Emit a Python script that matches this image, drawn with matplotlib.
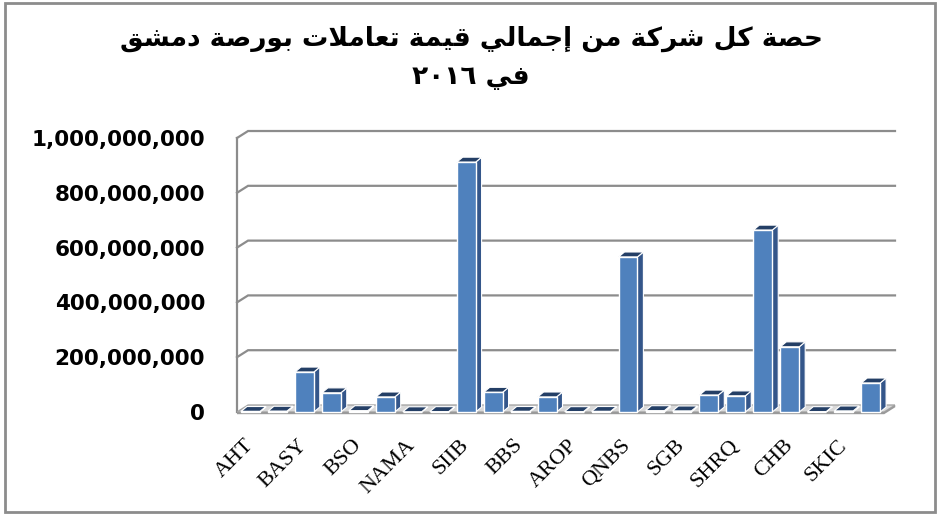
import matplotlib.pyplot as plt
from matplotlib.patches import Rectangle

# share of each company in the total traded value, Damascus Securities Exchange 2016
tick_labels = ['AHT', 'BASY', 'BSO', 'NAMA', 'SIIB', 'BBS',
               'AROP', 'QNBS', 'SGB', 'SHRQ', 'CHB', 'SKIC']
values = [2e6, 3e6, 146e6, 70e6, 5e6, 55e6, 1e6, 1.5e6,
          912e6, 72e6, 2e6, 55e6, 1.5e6, 2e6, 566e6, 5e6,
          4e6, 62e6, 59e6, 664e6, 238e6, 1.5e6, 4e6, 106e6]
y_ticks = [0, 200e6, 400e6, 600e6, 800e6, 1000e6]
title_line1 = 'حصة كل شركة من إجمالي قيمة تعاملات بورصة دمشق'
title_line2 = 'في ٢٠١٦'

# --- minimal arabic shaping (matplotlib does no bidi / joining) ---
FORMS = {
    'ا': ('\uFE8D', '\uFE8E', None, None),
    'إ': ('\uFE87', '\uFE88', None, None),
    'ب': ('\uFE8F', '\uFE90', '\uFE91', '\uFE92'),
    'ة': ('\uFE93', '\uFE94', None, None),
    'ت': ('\uFE95', '\uFE96', '\uFE97', '\uFE98'),
    'ج': ('\uFE9D', '\uFE9E', '\uFE9F', '\uFEA0'),
    'ح': ('\uFEA1', '\uFEA2', '\uFEA3', '\uFEA4'),
    'د': ('\uFEA9', '\uFEAA', None, None),
    'ر': ('\uFEAD', '\uFEAE', None, None),
    'ش': ('\uFEB5', '\uFEB6', '\uFEB7', '\uFEB8'),
    'ص': ('\uFEB9', '\uFEBA', '\uFEBB', '\uFEBC'),
    'ع': ('\uFEC9', '\uFECA', '\uFECB', '\uFECC'),
    'ف': ('\uFED1', '\uFED2', '\uFED3', '\uFED4'),
    'ق': ('\uFED5', '\uFED6', '\uFED7', '\uFED8'),
    'ك': ('\uFED9', '\uFEDA', '\uFEDB', '\uFEDC'),
    'ل': ('\uFEDD', '\uFEDE', '\uFEDF', '\uFEE0'),
    'م': ('\uFEE1', '\uFEE2', '\uFEE3', '\uFEE4'),
    'ن': ('\uFEE5', '\uFEE6', '\uFEE7', '\uFEE8'),
    'و': ('\uFEED', '\uFEEE', None, None),
    'ي': ('\uFEF1', '\uFEF2', '\uFEF3', '\uFEF4'),
}
LAM_ALEF = {'ا': ('\uFEFB', '\uFEFC'), 'إ': ('\uFEF9', '\uFEFA')}


def shape_word(word):
    units = []
    i = 0
    while i < len(word):
        c = word[i]
        if c == 'ل' and i + 1 < len(word) and word[i + 1] in LAM_ALEF:
            units.append(('LA', word[i + 1]))
            i += 2
        else:
            units.append(('C', c))
            i += 1

    def dual(u):
        return u is not None and u[0] == 'C' and u[1] in FORMS and FORMS[u[1]][2] is not None

    def joins(u):
        return u is not None and (u[0] == 'LA' or u[1] in FORMS)

    out = []
    for k, (kind, c) in enumerate(units):
        prev = units[k - 1] if k > 0 else None
        nxt = units[k + 1] if k + 1 < len(units) else None
        jp = dual(prev)
        if kind == 'LA':
            out.append(LAM_ALEF[c][1 if jp else 0])
            continue
        if c not in FORMS:
            out.append(c)
            continue
        f = FORMS[c]
        jn = f[2] is not None and joins(nxt)
        if jp and jn:
            out.append(f[3])
        elif jp:
            out.append(f[1])
        elif jn:
            out.append(f[2])
        else:
            out.append(f[0])
    return ''.join(out)


def visual(line):
    out = []
    for tok in reversed(line.split(' ')):
        if all('\u0660' <= ch <= '\u0669' for ch in tok):
            out.append(tok)
        else:
            out.append(shape_word(tok)[::-1])
    return ' '.join(out)


# --- layout (pixels of the 942x520 picture) ---
W, H = 942, 520
x0_px, x1_px = 237, 895
zero_px = 412
ppu_y = 274 / 1e9
ylo, yhi = -10e6, 1.03e9
xlo, xhi = -0.5, 23.9
top_px = zero_px - yhi * ppu_y
bot_px = zero_px - ylo * ppu_y

fig = plt.figure(figsize=(W / 100, H / 100), dpi=100)
fig.patch.set_facecolor('white')
ax = fig.add_axes([x0_px / W, 1 - bot_px / H, (x1_px - x0_px) / W, (bot_px - top_px) / H])
ax.set_xlim(xlo, xhi)
ax.set_ylim(ylo, yhi)
for s in ax.spines.values():
    s.set_visible(False)

grid_col = '#8C8C8C'
wall_dx, wall_dy = 0.41, 25.5e6     # depth of back wall
bar_dx, bar_dy = 0.22, 18e6         # depth of a bar
n = len(values)

# back wall gridlines with slanted connectors to the front edge
for v in y_ticks[1:]:
    ax.plot([xlo, xlo + wall_dx, xhi], [v, v + wall_dy, v + wall_dy],
            color=grid_col, lw=1.6, zorder=1, clip_on=False, solid_joinstyle='miter')
ax.plot([xlo, xlo], [0, y_ticks[-1]], color=grid_col, lw=1.6, zorder=1, clip_on=False)

# floor
ax.fill([xlo, n - 0.5, n - 0.5 + wall_dx, xlo + wall_dx],
        [0, 0, wall_dy, wall_dy], color='#D9D9D9', ec='#A6A6A6', lw=1, zorder=1.5)
ax.fill([xlo, n - 0.5, n - 0.5 + wall_dx, n - 0.5 + wall_dx, n - 0.5, xlo],
        [0, 0, wall_dy, wall_dy - 8e6, -8e6, -8e6],
        color='#9A9A9A', lw=0, zorder=1.6, clip_on=False)

# 3d-looking bars
xs = list(range(n))
bw = 0.7
for x, v in zip(xs, values):
    r = x + bw / 2
    l = x - bw / 2
    ax.fill([r, r + bar_dx, r + bar_dx, r], [0, bar_dy, v + bar_dy, v],
            color='#34568A', ec='white', lw=0.8, zorder=2.5)
    ax.fill([l, r, r + bar_dx, l + bar_dx], [v, v, v + bar_dy, v + bar_dy],
            color='#243F66', ec='white', lw=0.8, zorder=2.6)
ax.bar(xs, values, width=bw, color='#4F81BD', edgecolor='white', linewidth=1, zorder=3)

ax.set_yticks(y_ticks)
ax.set_yticklabels(['{:,.0f}'.format(v) for v in y_ticks],
                   fontfamily='DejaVu Sans', fontweight='bold', fontsize=15.5)
ax.tick_params(axis='y', length=0, pad=23)

ax.set_xticks(xs[::2])
ax.set_xticklabels(tick_labels, rotation=45, ha='right', va='center',
                   rotation_mode='anchor', fontfamily='Liberation Serif', fontsize=16)
ax.tick_params(axis='x', length=0, pad=20)

fig.text(0.5, 1 - 39 / H, visual(title_line1), ha='center', va='center',
         fontfamily='DejaVu Sans', fontweight='bold', fontsize=19)
fig.text(0.5, 1 - 77 / H, visual(title_line2), ha='center', va='center',
         fontfamily='DejaVu Sans', fontweight='bold', fontsize=19)

# outer chart border
fig.add_artist(Rectangle((5 / W, 1 - 512 / H), 930 / W, 509 / H, transform=fig.transFigure,
                         fill=False, edgecolor='#8C8C8C', lw=2))

fig.savefig('out.png', dpi=100)
